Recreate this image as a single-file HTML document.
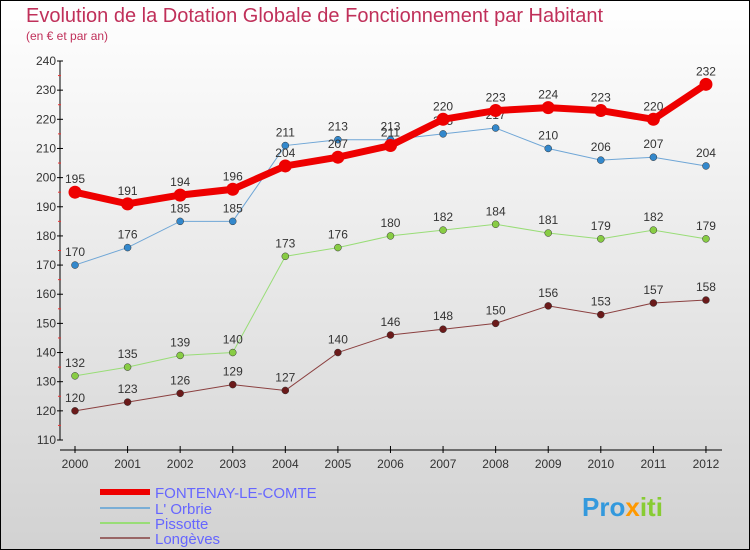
<!DOCTYPE html>
<html><head><meta charset="utf-8"><style>
body{margin:0}
svg{display:block;font-family:"Liberation Sans","DejaVu Sans",sans-serif}
</style></head><body>
<svg width="750" height="550" viewBox="0 0 750 550">
<defs><linearGradient id="bg" x1="0" y1="0" x2="0" y2="1"><stop offset="0" stop-color="#ffffff"/><stop offset="1" stop-color="#d2d2d2"/></linearGradient></defs>
<rect x="0.5" y="0.5" width="749" height="549" fill="url(#bg)" stroke="#000"/>
<text x="26" y="22" font-size="20" fill="#c0305a">Evolution de la Dotation Globale de Fonctionnement par Habitant</text>
<text x="26" y="40" font-size="12" fill="#c0305a">(en € et par an)</text>
<g id="axes"></g><g id="series"></g>
<g>
<line x1="100" y1="492" x2="150" y2="492" stroke="#e00" stroke-width="6"/>
<text x="155" y="498" font-size="15" fill="#6666ff">FONTENAY-LE-COMTE</text>
<line x1="100" y1="508" x2="150" y2="508" stroke="#7aaed6" stroke-width="2"/>
<text x="155" y="514" font-size="15" fill="#6666ff">L' Orbrie</text>
<line x1="100" y1="523" x2="150" y2="523" stroke="#99dd77" stroke-width="2"/>
<text x="155" y="529" font-size="15" fill="#6666ff">Pissotte</text>
<line x1="100" y1="538" x2="150" y2="538" stroke="#996666" stroke-width="2"/>
<text x="155" y="544" font-size="15" fill="#6666ff">Longèves</text>
</g>
<text x="582" y="516" font-size="26" font-weight="bold" fill="#3399dd">Pro<tspan fill="#ff9900">x</tspan><tspan fill="#88cc33">iti</tspan></text>
</svg>
<script>
const years=[2000,2001,2002,2003,2004,2005,2006,2007,2008,2009,2010,2011,2012];
const fontenay=[195,191,194,196,204,207,211,220,223,224,223,220,232];
const orbrie=[170,176,185,185,211,213,213,215,217,210,206,207,204];
const pissotte=[132,135,139,140,173,176,180,182,184,181,179,182,179];
const longeves=[120,123,126,129,127,140,146,148,150,156,153,157,158];
const yTicks=[110,120,130,140,150,160,170,180,190,200,210,220,230,240];
const NS="http://www.w3.org/2000/svg";
const X=i=>75+i*52.58;
const Y=v=>440-(v-110)*(379/130);
function mk(p,t,a){const e=document.createElementNS(NS,t);for(const k in a)e.setAttribute(k,a[k]);p.appendChild(e);return e;}
const ax=document.getElementById('axes');
const yl=mk(ax,'line',{x1:60,y1:Y(240),x2:60,y2:Y(110),stroke:'#000'});


const xl=mk(ax,'line',{x1:60,y1:450,x2:722,y2:450,stroke:'#000'});


yTicks.forEach(v=>{
  mk(ax,'line',{x1:57,y1:Y(v),x2:63,y2:Y(v),stroke:'#000'});
  if(v<240) mk(ax,'line',{x1:58,y1:Y(v+5),x2:61,y2:Y(v+5),stroke:'#e33'});
  const t=mk(ax,'text',{x:56,y:Y(v)+4,'font-size':12,fill:'#333','text-anchor':'end'});
  t.textContent=v;
  
  
});
years.forEach((y,i)=>{
  mk(ax,'line',{x1:X(i),y1:446,x2:X(i),y2:453,stroke:'#000'});
  const t=mk(ax,'text',{x:X(i),y:468,'font-size':12,fill:'#333','text-anchor':'middle'});
  t.textContent=y;
  
  
});
const sg=document.getElementById('series');
function draw(name,vals,color,dot,w,r){
  const g=mk(sg,'g',{});
  
  
  mk(g,'polyline',{points:vals.map((v,i)=>X(i)+','+Y(v)).join(' '),fill:'none',stroke:color,'stroke-width':w});
  vals.forEach((v,i)=>{
    const c=mk(g,'circle',{cx:X(i),cy:Y(v),r:r,fill:dot,stroke:w>3?'none':'#333','stroke-width':0.5});
    
    
    const t=mk(g,'text',{x:X(i),y:Y(v)-9,'font-size':12,fill:'#333','text-anchor':'middle'});
    t.textContent=v;
    
    
  });
}
draw('longeves',longeves,'#8b4040','#6b1a1a',1,3.5);
draw('pissotte',pissotte,'#99dd77','#88cc44',1,3.5);
draw('orbrie',orbrie,'#6fa6d6','#3388cc',1,3.5);
draw('fontenay',fontenay,'#ee0000','#ee0000',7,6.5);
</script>
</body></html>
